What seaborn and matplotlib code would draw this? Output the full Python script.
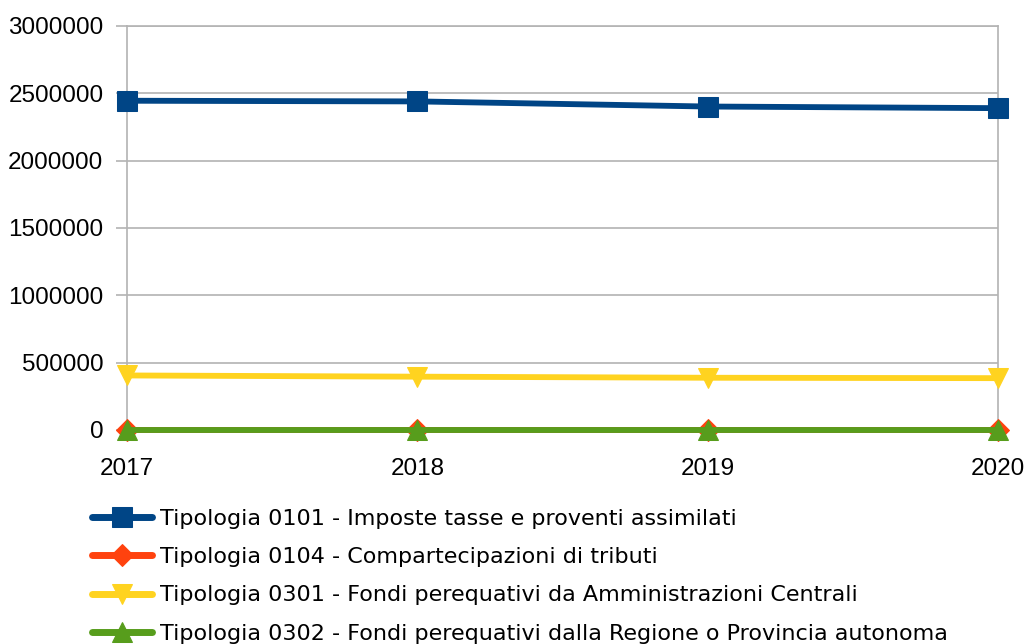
import matplotlib
matplotlib.use("Agg")
import matplotlib.pyplot as plt
import seaborn as sns
import pandas as pd

years = [2017, 2018, 2019, 2020]
series_names = [
    "Tipologia 0101 - Imposte tasse e proventi assimilati",
    "Tipologia 0104 - Compartecipazioni di tributi",
    "Tipologia 0301 - Fondi perequativi da Amministrazioni Centrali",
    "Tipologia 0302 - Fondi perequativi dalla Regione o Provincia autonoma",
]
values_0101 = [2445000, 2440000, 2402000, 2390000]
values_0104 = [0, 0, 0, 0]
values_0301 = [405000, 396000, 388000, 385000]
values_0302 = [0, 0, 0, 0]
yticks = [0, 500000, 1000000, 1500000, 2000000, 2500000, 3000000]

colors = ["#004586", "#ff420e", "#ffd320", "#579d1c"]
markers = ["s", "D", "v", "^"]
msizes = [14, 11, 14, 14]

rows = []
for name, vals in zip(series_names, [values_0101, values_0104, values_0301, values_0302]):
    for y, v in zip(years, vals):
        rows.append({"Anno": y, "Valore": v, "Serie": name})
df = pd.DataFrame(rows)

sns.set_theme(style="white")
plt.rcParams["font.family"] = ["Liberation Sans", "DejaVu Sans"]

fig = plt.figure(figsize=(10.29, 6.44), dpi=100)
ax = fig.add_axes([127 / 1029, 1 - 430 / 644, (998 - 127) / 1029, (430 - 26) / 644])

for name, c, m, ms in zip(series_names, colors, markers, msizes):
    sub = df[df["Serie"] == name]
    sns.lineplot(data=sub, x="Anno", y="Valore", ax=ax, color=c, marker=m,
                 markersize=ms, markeredgecolor=c, linewidth=4.2, label=name,
                 clip_on=False, zorder=3)

ax.set_xlim(2017, 2020)
ax.set_ylim(0, 3000000)
ax.set_xticks(years)
ax.set_xticklabels([str(y) for y in years])
ax.set_yticks(yticks)
ax.set_yticklabels([str(v) for v in yticks])
ax.set_xlabel("")
ax.set_ylabel("")
ax.grid(axis="y", color="#b3b3b3", linewidth=1.2)
ax.grid(axis="x", visible=False)
for s in ax.spines.values():
    s.set_color("#b3b3b3")
    s.set_linewidth(1.2)
ax.tick_params(axis="y", length=8, width=1.2, color="#b3b3b3", pad=9,
               labelsize=17.5, labelcolor="black", left=True)
ax.tick_params(axis="x", length=4, width=1.2, color="#b3b3b3", pad=16,
               labelsize=17.5, labelcolor="black", bottom=True)

ax.get_legend().remove()
handles, labels = ax.get_legend_handles_labels()
leg = fig.legend(handles, labels, loc="upper left", bbox_to_anchor=(92 / 1029, 1 - 509 / 644),
                 frameon=False, prop={"family": "DejaVu Sans", "size": 16},
                 handlelength=2.7, handletextpad=0.36, labelspacing=0.82,
                 borderaxespad=0, borderpad=0, labelcolor="black")
for h in leg.legend_handles:
    h.set_linewidth(5)

fig.savefig("out.png", dpi=100)
